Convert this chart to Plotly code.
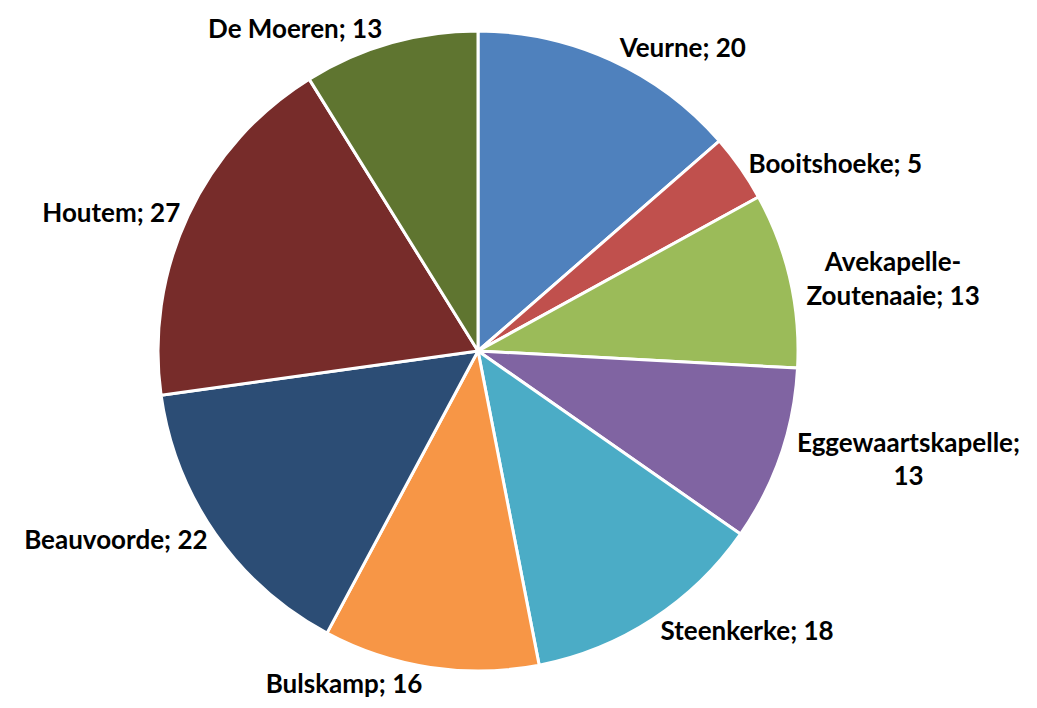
import plotly.graph_objects as go

categories = ["Veurne", "Booitshoeke", "Avekapelle-Zoutenaaie", "Eggewaartskapelle",
              "Steenkerke", "Bulskamp", "Beauvoorde", "Houtem", "De Moeren"]
values = [20, 5, 13, 13, 18, 16, 22, 27, 13]
label_text = ["Veurne; 20", "Booitshoeke; 5", "Avekapelle-<br>Zoutenaaie; 13",
              "Eggewaartskapelle;<br>13", "Steenkerke; 18", "Bulskamp; 16",
              "Beauvoorde; 22", "Houtem; 27", "De Moeren; 13"]
colors = ["#4F81BD", "#C0504D", "#9BBB59", "#8064A2", "#4BACC6",
          "#F79646", "#2C4D75", "#772C2A", "#5F7530"]

W, H = 1037, 708
cx, cy, r = 470, 343, 320

fig = go.Figure(go.Pie(
    labels=categories,
    values=values,
    text=label_text,
    textinfo="text",
    texttemplate="<b>%{text}</b>",
    textposition="outside",
    sort=False,
    direction="clockwise",
    rotation=0,
    marker=dict(colors=colors, line=dict(color="white", width=3)),
    textfont=dict(family="Lato, Carlito, Calibri, sans-serif", size=26, color="black"),
    showlegend=False,
    automargin=False,
    domain=dict(x=[(cx - r) / W, (cx + r) / W], y=[1 - (cy + r) / H, 1 - (cy - r) / H]),
))
fig.update_layout(
    width=W, height=H,
    margin=dict(l=0, r=0, t=0, b=0),
    paper_bgcolor="white",
    plot_bgcolor="white",
)
fig.write_html("out.html")
